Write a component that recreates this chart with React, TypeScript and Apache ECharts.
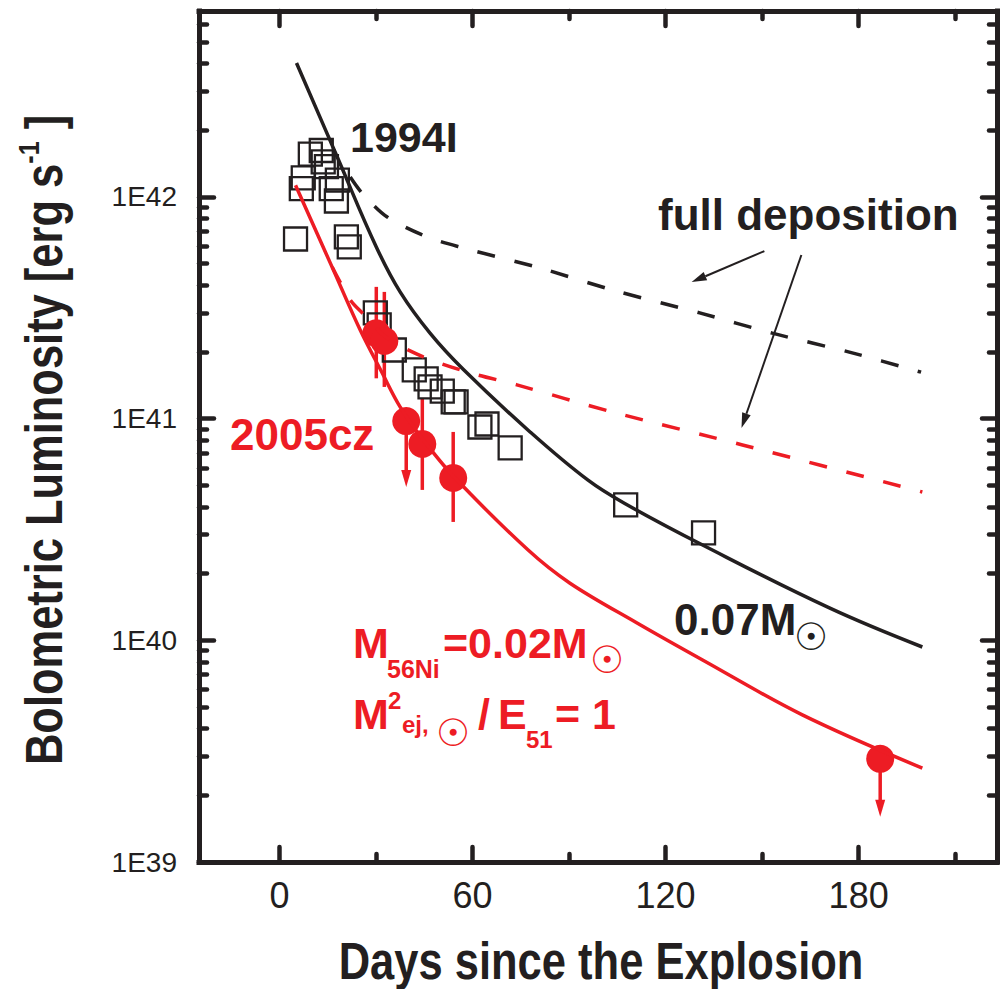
import React, { useEffect, useRef } from "react";
import * as echarts from "echarts";

// ---------- colours & fonts ----------
const BLACK = "#231f20";
const RED = "#ed1c24";
const FONT = "'Liberation Sans', Arial, Helvetica, sans-serif";
const SYMBOL_FONT = "'DejaVu Sans', sans-serif";

// ---------- axes ----------
const X_MIN = -25;
const X_MAX = 223;
const X_MAJOR_TICKS = [0, 60, 120, 180];
const X_MINOR_TICKS = [30, 90, 150, 210];
const Y_MIN = 1e39;
const Y_MAX = 6.9e42;
const Y_MAJOR_TICKS = [1e39, 1e40, 1e41, 1e42];
const Y_MINOR_TICKS = [
  2e39, 3e39, 4e39, 5e39, 6e39, 7e39, 8e39, 9e39,
  2e40, 3e40, 4e40, 5e40, 6e40, 7e40, 8e40, 9e40,
  2e41, 3e41, 4e41, 5e41, 6e41, 7e41, 8e41, 9e41,
  2e42, 3e42, 4e42, 5e42, 6e42,
];
const X_TITLE = "Days since the Explosion";
const Y_TITLE_MAIN = "Bolometric Luminosity [erg s";
const Y_TITLE_SUP = "-1";
const Y_TITLE_END = " ]";

// ---------- SN 1994I observations (open squares) ----------
const sn1994IDays = [9.6, 13.0, 13.6, 14.6, 7.4, 6.8, 18.0, 16.1, 17.7, 5.0, 20.8, 21.7, 29.8, 31.0, 35.7, 41.9, 45.6, 46.8, 50.6, 54.0, 54.9, 62.3, 64.5, 71.7, 107.6, 131.8];
const sn1994ILum = [1.56e42, 1.62e42, 1.44e42, 1.37e42, 1.22e42, 1.09e42, 1.19e42, 1.09e42, 9.59e41, 6.46e41, 6.6e41, 5.95e41, 3.0e41, 2.65e41, 2.04e41, 1.66e41, 1.51e41, 1.39e41, 1.33e41, 1.19e41, 1.19e41, 9.17e40, 9.46e40, 7.38e40, 4.08e40, 3.05e40];

// ---------- SN 2005cz observations (filled circles) ----------
const sn2005czDays = [30.1, 32.6, 39.4, 44.4, 54.0, 186.7];
const sn2005czLum = [2.43e41, 2.24e41, 9.75e40, 7.69e40, 5.4e40, 2.92e39];
const sn2005czErrHigh = [3.93e41, 3.73e41, null, 1.24e41, 8.71e40, null];
const sn2005czErrLow = [1.52e41, 1.39e41, null, 4.77e40, 3.42e40, null];
const sn2005czLimitTip = [null, null, 4.92e40, null, null, 1.6e39];

// ---------- model curves ----------
const model007Days = [5.3, 18.0, 30.1, 37.5, 46.8, 57.1, 77.9, 95.8, 107.6, 131.5, 170.9, 199.8];
const model007Lum = [4.02e42, 1.51e42, 5.95e41, 3.73e41, 2.43e41, 1.67e41, 8.71e40, 5.29e40, 4.12e40, 2.69e40, 1.4e40, 9.33e39];
const full007Days = [22.0, 25.7, 33.5, 45.9, 57.1, 81.0, 103.6, 130.6, 153.2, 178.0, 199.4];
const full007Lum = [1.23e42, 1.04e42, 8.12e41, 6.6e41, 5.89e41, 4.78e41, 3.8e41, 3.0e41, 2.43e41, 1.98e41, 1.62e41];
const model002Days = [5.0, 16.3, 25.1, 31.9, 37.5, 44.7, 54.0, 77.2, 90.3, 111.0, 131.5, 162.5, 199.8];
const model002Lum = [1.13e42, 4.85e41, 2.51e41, 1.61e41, 1.13e41, 8.02e40, 5.51e40, 2.56e40, 1.81e40, 1.2e40, 8.15e39, 4.61e39, 2.65e39];
const full002Days = [16.4, 22.0, 25.7, 33.5, 44.7, 59.2, 73.8, 103.6, 143.9, 199.8];
const full002Lum = [4.83e41, 3.43e41, 3.0e41, 2.31e41, 1.9e41, 1.61e41, 1.42e41, 1.07e41, 7.61e40, 4.67e40];

// ---------- annotation arrows ("full deposition") ----------
const arrowFromDays = [150.7, 162.2];
const arrowFromLum = [5.7e41, 5.47e41];
const arrowToDays = [128.1, 143.6];
const arrowToLum = [4.13e41, 9.08e40];

const zip = (a: number[], b: number[]) => a.map((v, i) => [v, b[i]]);

function buildOption() {
  const axisLineStyle = { color: BLACK, width: 5, cap: "square" };
  const ticks = (values: number[], length: number) => ({
    show: true,
    inside: true,
    length,
    customValues: values,
    lineStyle: { color: BLACK, width: 4.5, cap: "round" },
  });
  const xBase = { type: "value", min: X_MIN, max: X_MAX, splitLine: { show: false } };
  const yBase = { type: "log", logBase: 10, min: Y_MIN, max: Y_MAX, splitLine: { show: false }, minorTick: { show: false } };

  const errData = sn2005czDays
    .map((d, i) => (sn2005czErrHigh[i] != null ? [d, sn2005czErrLow[i], sn2005czErrHigh[i]] : null))
    .filter(Boolean);
  const limData = sn2005czDays
    .map((d, i) => (sn2005czLimitTip[i] != null ? [d, sn2005czLum[i], sn2005czLimitTip[i]] : null))
    .filter(Boolean);
  const arrowData = arrowFromDays.map((d, i) => [d, arrowFromLum[i], arrowToDays[i], arrowToLum[i]]);

  const bold = (text: string, x: number, y: number, size: number, color: string) => ({
    type: "text",
    x,
    y,
    z: 100,
    style: {
      text,
      fill: color,
      fontSize: size,
      fontWeight: "bold",
      fontFamily: FONT,
      textAlign: "left",
      textVerticalAlign: "middle",
    },
  });
  const sun = (x: number, y: number, color: string) => ({
    type: "text",
    x,
    y,
    z: 100,
    style: {
      text: "☉",
      fill: color,
      fontSize: 38,
      fontFamily: SYMBOL_FONT,
      textAlign: "center",
      textVerticalAlign: "middle",
    },
  });
  const line = (name: string, days: number[], lum: number[], color: string, dashed: boolean, smooth: number) => ({
    name,
    type: "line",
    data: zip(days, lum),
    smooth,
    showSymbol: false,
    symbol: "none",
    lineStyle: { color, width: 3.5, type: dashed ? [18, 20] : "solid", opacity: 1 },
  });

  return {
    animation: false,
    backgroundColor: "#ffffff",
    grid: { left: 199, right: 5, top: 11, bottom: 127, containLabel: false, outerBoundsMode: "none" },
    xAxis: [
      {
        ...xBase,
        position: "bottom",
        axisLine: { show: true, onZero: false, lineStyle: axisLineStyle },
        axisTick: ticks(X_MAJOR_TICKS, 15),
        axisLabel: { customValues: X_MAJOR_TICKS, fontSize: 36, fontFamily: FONT, color: BLACK, margin: 15 },
      },
      { ...xBase, position: "bottom", axisLine: { show: false, onZero: false }, axisTick: ticks(X_MINOR_TICKS, 8), axisLabel: { show: false } },
      { ...xBase, position: "top", axisLine: { show: true, onZero: false, lineStyle: axisLineStyle }, axisTick: ticks(X_MAJOR_TICKS, 15), axisLabel: { show: false } },
      { ...xBase, position: "top", axisLine: { show: false, onZero: false }, axisTick: ticks(X_MINOR_TICKS, 8), axisLabel: { show: false } },
    ],
    yAxis: [
      {
        ...yBase,
        position: "left",
        axisLine: { show: true, onZero: false, lineStyle: axisLineStyle },
        axisTick: ticks(Y_MAJOR_TICKS, 15),
        axisLabel: {
          customValues: Y_MAJOR_TICKS,
          formatter: (v: number) => "1E" + Math.round(Math.log10(v)),
          fontSize: 28,
          fontFamily: FONT,
          color: BLACK,
          margin: 22,
        },
      },
      { ...yBase, position: "left", axisLine: { show: false, onZero: false }, axisTick: ticks(Y_MINOR_TICKS, 8), axisLabel: { show: false } },
      { ...yBase, position: "right", axisLine: { show: true, onZero: false, lineStyle: axisLineStyle }, axisTick: ticks(Y_MAJOR_TICKS, 15), axisLabel: { show: false } },
      { ...yBase, position: "right", axisLine: { show: false, onZero: false }, axisTick: ticks(Y_MINOR_TICKS, 8), axisLabel: { show: false } },
    ],
    series: [
      line("0.07 Msun model", model007Days, model007Lum, BLACK, false, 0.4),
      line("0.07 Msun full deposition", full007Days, full007Lum, BLACK, true, 0.3),
      line("0.02 Msun model", model002Days, model002Lum, RED, false, 0.35),
      line("0.02 Msun full deposition", full002Days, full002Lum, RED, true, 0.3),
      {
        name: "1994I",
        type: "scatter",
        data: zip(sn1994IDays, sn1994ILum),
        symbol: "rect",
        symbolSize: 23,
        itemStyle: { color: "rgba(255,255,255,0)", borderColor: BLACK, borderWidth: 2.3, opacity: 1 },
      },
      {
        name: "2005cz error bars",
        type: "custom",
        data: errData,
        encode: { x: 0, y: [1, 2] },
        renderItem: (_p: any, api: any) => {
          const a = api.coord([api.value(0), api.value(1)]);
          const b = api.coord([api.value(0), api.value(2)]);
          return {
            type: "line",
            shape: { x1: a[0], y1: a[1], x2: b[0], y2: b[1] },
            style: { stroke: RED, lineWidth: 3.5 },
          };
        },
      },
      {
        name: "2005cz upper limits",
        type: "custom",
        data: limData,
        encode: { x: 0, y: [1, 2] },
        renderItem: (_p: any, api: any) => {
          const a = api.coord([api.value(0), api.value(1)]);
          const b = api.coord([api.value(0), api.value(2)]);
          const hl = 17;
          const hw = 5;
          return {
            type: "group",
            children: [
              { type: "line", shape: { x1: a[0], y1: a[1], x2: b[0], y2: b[1] - hl + 2 }, style: { stroke: RED, lineWidth: 3.5 } },
              {
                type: "polygon",
                shape: { points: [[b[0] - hw, b[1] - hl], [b[0] + hw, b[1] - hl], [b[0], b[1]]] },
                style: { fill: RED },
              },
            ],
          };
        },
      },
      {
        name: "2005cz",
        type: "scatter",
        data: zip(sn2005czDays, sn2005czLum),
        symbol: "circle",
        symbolSize: 28,
        itemStyle: { color: RED, opacity: 1 },
      },
      {
        name: "full deposition arrows",
        type: "custom",
        data: arrowData,
        encode: { x: [0, 2], y: [1, 3] },
        renderItem: (_p: any, api: any) => {
          const a = api.coord([api.value(0), api.value(1)]);
          const b = api.coord([api.value(2), api.value(3)]);
          const dx = b[0] - a[0];
          const dy = b[1] - a[1];
          const len = Math.hypot(dx, dy) || 1;
          const ux = dx / len;
          const uy = dy / len;
          const hl = 15;
          const hw = 4.5;
          const bx = b[0] - ux * hl;
          const by = b[1] - uy * hl;
          return {
            type: "group",
            children: [
              { type: "line", shape: { x1: a[0], y1: a[1], x2: bx, y2: by }, style: { stroke: BLACK, lineWidth: 2 } },
              {
                type: "polygon",
                shape: { points: [[b[0], b[1]], [bx - uy * hw, by + ux * hw], [bx + uy * hw, by - ux * hw]] },
                style: { fill: BLACK },
              },
            ],
          };
        },
      },
    ],
    graphic: [
      // axis titles (condensed bold, as in the original)
      {
        type: "text",
        x: 601,
        y: 961,
        scaleX: 0.837,
        z: 100,
        style: {
          text: X_TITLE,
          fill: BLACK,
          fontSize: 52,
          fontWeight: "bold",
          fontFamily: FONT,
          textAlign: "center",
          textVerticalAlign: "middle",
        },
      },
      {
        type: "text",
        x: 44,
        y: 440,
        rotation: Math.PI / 2,
        scaleX: 0.836,
        z: 100,
        style: {
          text: `{t|${Y_TITLE_MAIN}}{s|${Y_TITLE_SUP}}{t|${Y_TITLE_END}}`,
          textAlign: "center",
          textVerticalAlign: "middle",
          rich: {
            t: { fontSize: 52, fontWeight: "bold", fontFamily: FONT, fill: BLACK, color: BLACK, lineHeight: 60 },
            s: { fontSize: 30, fontWeight: "bold", fontFamily: FONT, fill: BLACK, color: BLACK, verticalAlign: "top", lineHeight: 30 },
          },
        },
      },
      bold("1994I", 350, 137, 43, BLACK),
      bold("full deposition", 658, 214, 44, BLACK),
      bold("2005cz", 230, 434, 44, RED),
      bold("0.07M", 674, 619, 44, BLACK),
      sun(811, 637, BLACK),
      bold("M", 353, 643, 43, RED),
      bold("56Ni", 387, 669, 25, RED),
      bold("=0.02M", 443, 643, 43, RED),
      sun(607, 660, RED),
      bold("M", 353, 714, 43, RED),
      bold("2", 388, 700, 24, RED),
      bold("ej,", 402, 724, 24, RED),
      sun(453, 733, RED),
      bold("/", 478, 714, 43, RED),
      bold("E", 498, 714, 43, RED),
      bold("51", 526, 739, 24, RED),
      bold("= 1", 555, 714, 43, RED),
    ],
  };
}

export default function App() {
  const ref = useRef<HTMLDivElement>(null);
  useEffect(() => {
    document.body.style.margin = "0";
    const chart = echarts.init(ref.current!, null, { renderer: "svg" });
    chart.setOption(buildOption() as any);
    return () => chart.dispose();
  }, []);
  return <div ref={ref} style={{ width: 1002, height: 989, overflow: "hidden" }} />;
}
